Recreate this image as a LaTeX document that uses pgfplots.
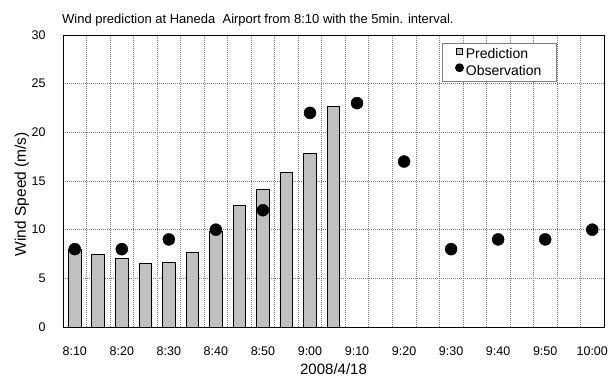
\documentclass[border=0pt]{standalone}
\usepackage{pgfplots}
\pgfplotsset{compat=1.18}
\usepackage{fontspec}
\setmainfont{Liberation Sans}
\definecolor{barfill}{RGB}{192,192,192}
\definecolor{gridc}{RGB}{128,128,128}
\begin{document}
\begin{tikzpicture}[x=1pt,y=1pt]
\begin{axis}[
  at={(63pt,54pt)}, anchor=south west,
  scale only axis, width=541pt, height=292pt,
  xmin=-0.5, xmax=22.5, ymin=0, ymax=30,
  xtick={0,2,...,22},
  xticklabels={8:10,8:20,8:30,8:40,8:50,9:00,9:10,9:20,9:30,9:40,9:50,10:00},
  minor xtick={-0.5,0.5,...,22.5},
  ytick={0,5,...,30},
  major tick length=0pt, minor tick length=0pt,
  ymajorgrids, xminorgrids,
  major grid style={gridc, dash pattern=on 1.2pt off 0.8pt, line width=0.6pt},
  minor grid style={gridc, dash pattern=on 1.2pt off 0.8pt, line width=0.6pt},
  axis line style={black, line width=0.8pt},
  tick label style={font=\fontsize{12.5}{14}\selectfont},
  xticklabel style={yshift=-16pt},
  yticklabel style={xshift=-14pt},
  /pgf/number format/assume math mode=true,
  xlabel={2008/4/18}, ylabel={Wind Speed (m/s)},
  xlabel style={font=\fontsize{15}{17}\selectfont, at={(axis description cs:0.5,-0.1438)}, anchor=center},
  ylabel style={font=\fontsize{15.5}{17}\selectfont, at={(axis description cs:-0.0758,0.455)}, anchor=center},
  legend style={at={(0.7,0.973)}, anchor=north west, draw=gray, line width=0.8pt,
    font=\fontsize{14}{16}\selectfont, inner xsep=13pt, inner ysep=3pt, row sep=1pt,
    cells={anchor=west}},
  legend cell align=left,
]
\addplot[ybar, bar width=12.7pt, fill=barfill, draw=black, line width=0.9pt,
  legend image code/.code={\draw[fill=barfill,draw=black,line width=0.6pt] (0pt,0pt) rectangle (6pt,6pt);}]
  coordinates {(0,8.0) (1,7.5) (2,7.05) (3,6.5) (4,6.6) (5,7.7) (6,9.8) (7,12.5) (8,14.1) (9,15.9) (10,17.8) (11,22.7)};
\addlegendentry{Prediction}
\addplot[only marks, mark=*, mark size=6pt, black,
  legend image code/.code={\fill[black] (3pt,3pt) circle (4pt);}]
  coordinates {(0,8) (2,8) (4,9) (6,10) (8,12) (10,22) (12,23) (14,17) (16,8) (18,9) (20,9) (22,10)};
\addlegendentry{Observation}
\end{axis}
\node[anchor=base west, inner sep=0, font=\fontsize{13}{15}\selectfont] at (62,357.7) {Wind prediction at Haneda\ \ Airport from 8:10 with the 5min. interval.};
\pgfresetboundingbox
\path (0,0) rectangle (609,381);
\end{tikzpicture}
\end{document}
